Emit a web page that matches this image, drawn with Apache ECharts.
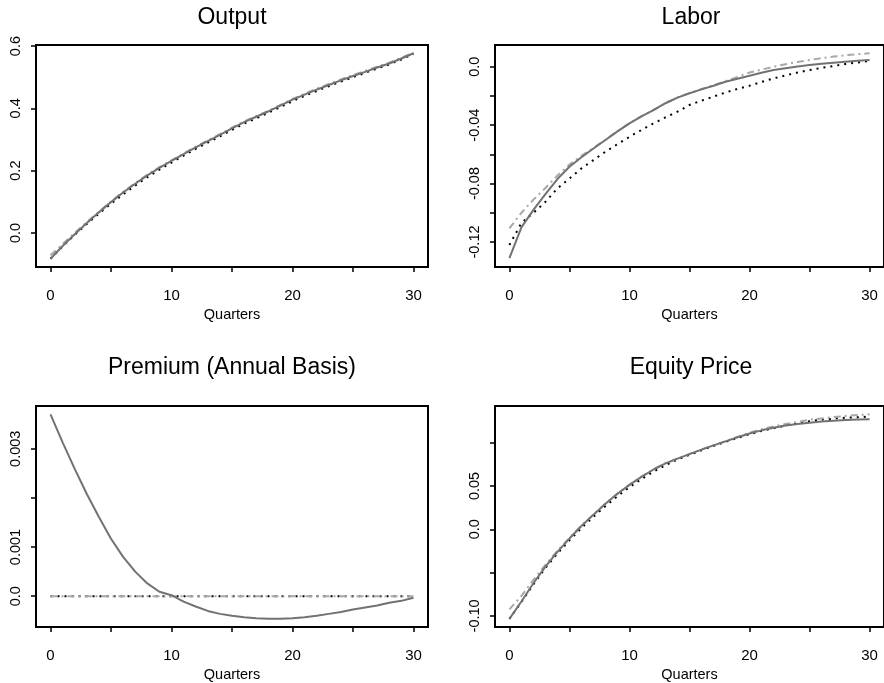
<!DOCTYPE html>
<html><head><meta charset="utf-8">
<script src="https://cdn.jsdelivr.net/npm/echarts@6/dist/echarts.min.js"></script>
<style>html,body{margin:0;padding:0;background:#fff}#c{width:884px;height:683px}</style>
</head><body><div id="c"></div>
<script>
// ---------- data ----------
const quarters = [0,1,2,3,4,5,6,7,8,9,10,11,12,13,14,15,16,17,18,19,20,21,22,23,24,25,26,27,28,29,30];
const xTicks = [0,5,10,15,20,25,30];
const xLabels = [0,10,20,30];
const xName = "Quarters";
const titles = ["Output","Labor","Premium (Annual Basis)","Equity Price"];

// Output
const outputSolid  = [-0.083,-0.042,-0.004,0.032,0.066,0.099,0.130,0.158,0.185,0.209,0.231,0.253,0.275,0.295,0.315,0.336,0.356,0.373,0.390,0.409,0.428,0.444,0.460,0.475,0.490,0.504,0.517,0.531,0.544,0.560,0.577];
const outputDotted = [-0.083,-0.043,-0.006,0.029,0.062,0.094,0.124,0.152,0.179,0.203,0.226,0.248,0.270,0.290,0.310,0.331,0.351,0.368,0.386,0.404,0.423,0.440,0.456,0.471,0.486,0.500,0.514,0.528,0.541,0.557,0.575];
const outputDashDot= [-0.072,-0.036,0.000,0.035,0.068,0.101,0.132,0.160,0.187,0.211,0.233,0.255,0.277,0.297,0.317,0.338,0.358,0.375,0.392,0.411,0.430,0.447,0.463,0.478,0.493,0.507,0.520,0.534,0.547,0.562,0.579];

// Labor
const laborSolid   = [-0.1310,-0.1100,-0.0980,-0.0872,-0.0769,-0.0685,-0.0620,-0.0560,-0.0502,-0.0443,-0.0388,-0.0340,-0.0297,-0.0250,-0.0212,-0.0182,-0.0155,-0.0130,-0.0103,-0.0082,-0.0062,-0.0042,-0.0023,-0.0010,0.0002,0.0011,0.0020,0.0027,0.0034,0.0040,0.0046];
const laborDotted  = [-0.1220,-0.1070,-0.1000,-0.0925,-0.0833,-0.0765,-0.0696,-0.0639,-0.0582,-0.0530,-0.0480,-0.0433,-0.0388,-0.0347,-0.0308,-0.0262,-0.0232,-0.0205,-0.0177,-0.0152,-0.0130,-0.0104,-0.0080,-0.0060,-0.0040,-0.0023,-0.0008,0.0005,0.0018,0.0029,0.0039];
const laborDashDot = [-0.1107,-0.1000,-0.0910,-0.0830,-0.0745,-0.0670,-0.0610,-0.0555,-0.0500,-0.0442,-0.0387,-0.0339,-0.0296,-0.0249,-0.0211,-0.0181,-0.0153,-0.0127,-0.0098,-0.0070,-0.0040,-0.0020,0.0000,0.0017,0.0032,0.0046,0.0058,0.0069,0.0079,0.0086,0.0092];

// Premium (annual basis)
const premSolid    = [0.00370,0.00313,0.00259,0.00208,0.00161,0.00117,0.00080,0.00050,0.00026,0.00009,0.00002,-0.00011,-0.00021,-0.00030,-0.00036,-0.00040,-0.00043,-0.00045,-0.00046,-0.00046,-0.00045,-0.00043,-0.00040,-0.00036,-0.00032,-0.00027,-0.00023,-0.00019,-0.000135,-0.000095,-0.00003];
const premDotted   = [0,0,0,0,0,0,0,0,0,0,0,0,0,0,0,0,0,0,0,0,0,0,0,0,0,0,0,0,0,0,0];
const premDashDot  = [0,0,0,0,0,0,0,0,0,0,0,0,0,0,0,0,0,0,0,0,0,0,0,0,0,0,0,0,0,0,0];

// Equity price
const eqSolid      = [-0.1034,-0.0833,-0.0623,-0.0432,-0.0260,-0.0107,0.0038,0.0169,0.0295,0.0410,0.0512,0.0605,0.0690,0.0760,0.0815,0.0868,0.0920,0.0968,0.1015,0.1062,0.1105,0.1142,0.1173,0.1197,0.1216,0.1231,0.1243,0.1252,0.1260,0.1266,0.1270];
const eqDotted     = [-0.1034,-0.0840,-0.0635,-0.0447,-0.0280,-0.0128,0.0015,0.0145,0.0268,0.0382,0.0486,0.0580,0.0665,0.0740,0.0805,0.0860,0.0912,0.0962,0.1010,0.1055,0.1097,0.1135,0.1167,0.1196,0.1225,0.1248,0.1264,0.1277,0.1287,0.1294,0.1300];
const eqDashDot    = [-0.0925,-0.0770,-0.0585,-0.0410,-0.0248,-0.0100,0.0042,0.0172,0.0298,0.0412,0.0514,0.0607,0.0692,0.0762,0.0817,0.0870,0.0922,0.0970,0.1018,0.1067,0.1115,0.1155,0.1188,0.1215,0.1240,0.1265,0.1280,0.1295,0.1308,0.1318,0.1327];

// y tick marks and labels per panel
const yTicks = [
  [0,0.2,0.4,0.6],
  [-0.12,-0.10,-0.08,-0.06,-0.04,-0.02,0],
  [0,0.001,0.002,0.003],
  [-0.10,-0.05,0,0.05,0.10]
];
const yLabelValues = [
  [0,0.2,0.4,0.6],
  [-0.12,-0.08,-0.04,0],
  [0,0.001,0.003],
  [-0.10,0,0.05]
];
const yLabelTexts = [
  ["0.0","0.2","0.4","0.6"],
  ["-0.12","-0.08","-0.04","0.0"],
  ["0.0","0.001","0.003"],
  ["-0.10","0.0","0.05"]
];
const yRanges = [[-0.1094,0.6034],[-0.1371,0.01485],[-0.000627,0.00387],[-0.1128,0.1423]];

// ---------- chart ----------
const panels = [
  [outputSolid, outputDotted, outputDashDot],
  [laborSolid, laborDotted, laborDashDot],
  [premSolid, premDotted, premDashDot],
  [eqSolid, eqDotted, eqDashDot]
];
const gridPos = [
  {left:36, top:45}, {left:495, top:45}, {left:36, top:406}, {left:495, top:406}
];
const GW = 392, GH = 222;
const FONT = '"Liberation Sans", Arial, Helvetica, sans-serif';

const grid = gridPos.map(p => ({left:p.left, top:p.top, width:GW, height:GH, show:true,
  borderColor:'#000', borderWidth:2, backgroundColor:'transparent'}));

const xAxis = gridPos.map((p,i) => ({
  type:'value', gridIndex:i, min:-1.2, max:31.2, position:'bottom',
  axisLine:{show:false, onZero:false}, splitLine:{show:false},
  axisTick:{show:true, length:5, lineStyle:{color:'#000', width:1.5}, customValues:xTicks},
  axisLabel:{customValues:xLabels, margin:21, color:'#000', fontSize:15, fontFamily:FONT},
  name:xName, nameLocation:'middle', nameGap:40,
  nameTextStyle:{color:'#000', fontSize:14.5, fontFamily:FONT}
}));

const yAxis = gridPos.map((p,i) => ({
  type:'value', gridIndex:i, min:yRanges[i][0], max:yRanges[i][1], position:'left',
  axisLine:{show:false, onZero:false}, splitLine:{show:false},
  axisTick:{show:true, length:5, lineStyle:{color:'#000', width:1.5}, customValues:yTicks[i]},
  axisLabel:{customValues:yLabelValues[i], rotate:90, margin:13, color:'#000', fontSize:14.5, fontFamily:FONT,
    formatter:(v)=>{
      const vals = yLabelValues[i];
      let best = 0;
      for (let k=1;k<vals.length;k++) if (Math.abs(vals[k]-v) < Math.abs(vals[best]-v)) best = k;
      return yLabelTexts[i][best];
    }}
}));

const titleCenters = [[232,6],[691,6],[232,356],[691,356]];
const title = titles.map((t,i) => ({
  text:t, left:titleCenters[i][0], top:titleCenters[i][1], textAlign:'center', padding:0,
  textStyle:{color:'#000', fontSize:23, fontWeight:'normal', fontFamily:FONT}
}));

const styles = [
  {color:'#727272', width:2, type:'solid'},
  {color:'#000000', width:2, type:[2,5]},
  {color:'#a8a8a8', width:2, type:[7,4,2,4]}
];
const drawOrder = [1,2,0];
const series = [];
panels.forEach((ser,i) => {
  drawOrder.forEach(k => {
    series.push({
      type:'line', xAxisIndex:i, yAxisIndex:i, showSymbol:false, symbol:'none',
      silent:true, animation:false, clip:false,
      data: quarters.map((q,j)=>[q, ser[k][j]]),
      lineStyle:{color:styles[k].color, width:styles[k].width, type:styles[k].type, cap:'butt'},
      z: 2 + drawOrder.indexOf(k)
    });
  });
});

const chart = echarts.init(document.getElementById('c'), null, {renderer:'canvas'});
chart.setOption({animation:false, backgroundColor:'#fff', title, grid, xAxis, yAxis, series});
</script>
</body></html>
